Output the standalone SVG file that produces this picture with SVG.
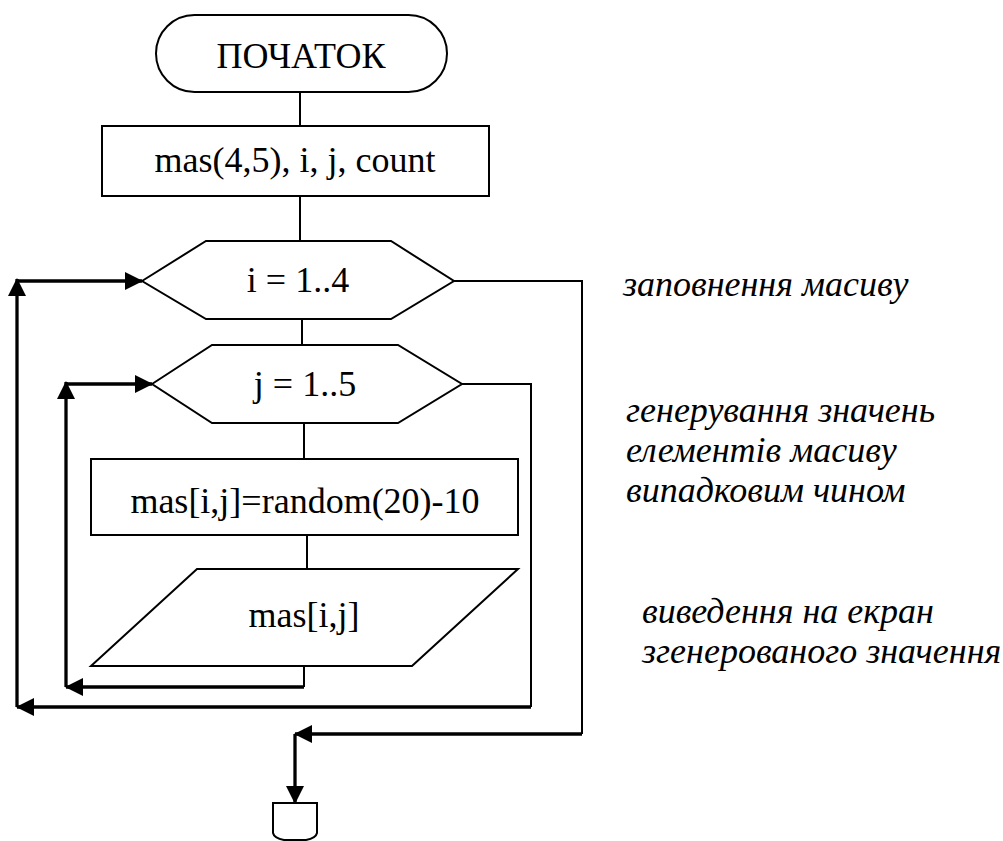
<svg xmlns="http://www.w3.org/2000/svg" width="1003" height="841" viewBox="0 0 1003 841">
<style>
.shape{fill:#fff;stroke:#000;stroke-width:2}
.t{font-family:"Liberation Serif","Times New Roman",serif;font-size:36px;fill:#000;text-anchor:middle}
.note{font-family:"Liberation Serif","Times New Roman",serif;font-size:36px;font-style:italic;fill:#000}
.thin{fill:none;stroke:#000;stroke-width:2}
.thick{fill:none;stroke:#000;stroke-width:3.3}
.arr{marker-end:url(#ah)}
</style>
<defs>
<marker id="ah" markerUnits="userSpaceOnUse" markerWidth="18" markerHeight="18" refX="17" refY="9" orient="auto">
<path d="M0,0 L18,9 L0,18 Z" fill="#000"/>
</marker>
</defs>
<rect width="1003" height="841" fill="#fff"/>
<g id="connectors">
<path class="thin" d="M300,92 V126"/>
<path class="thin" d="M300,196 V241"/>
<path class="thin" d="M302,319 V345"/>
<path class="thin" d="M304,423 V459"/>
<path class="thin" d="M307,535 V569"/>
<path class="thin" d="M304,666 V687"/>
<path class="thick arr" d="M304,687 H66"/>
<path class="thick arr" d="M66,687 V382"/>
<path class="thick arr" d="M66,384 H152"/>
<path class="thin" d="M462,384 H531 V707"/>
<path class="thick arr" d="M531,707 H17"/>
<path class="thick arr" d="M17,707 V279"/>
<path class="thick arr" d="M17,281 H142"/>
<path class="thin" d="M454,281 H582 V734"/>
<path class="thick arr" d="M582,734 H295"/>
<path class="thick arr" d="M295,734 V803"/>
</g>
<g id="start">
<rect class="shape" x="156" y="15" width="291" height="77" rx="38.5"/>
<text class="t" x="301" y="68">ПОЧАТОК</text>
</g>
<g id="vars">
<rect class="shape" x="102" y="126" width="387" height="70"/>
<text class="t" x="295" y="172">mas(4,5), i, j, count</text>
</g>
<g id="loop-i">
<polygon class="shape" points="142,281 206,241 391,241 454,281 391,319 206,319"/>
<text class="t" x="298" y="292">i = 1..4</text>
</g>
<g id="loop-j">
<polygon class="shape" points="152,384 212,345 398,345 462,384 398,423 212,423"/>
<text class="t" x="305" y="396">j = 1..5</text>
</g>
<g id="assign">
<rect class="shape" x="91" y="459" width="427" height="76"/>
<text class="t" x="305" y="513">mas[i,j]=random(20)-10</text>
</g>
<g id="output">
<polygon class="shape" points="197,569 518,569 412,666 91,666"/>
<text class="t" x="304" y="627">mas[i,j]</text>
</g>
<g id="connector-end">
<path class="shape" d="M273,803 H317 V833 Q316,838 306,840 H284 Q274,838 273,833 Z"/>
</g>
<g id="notes">
<text class="note" x="623" y="296">заповнення масиву</text>
<text class="note" x="626" y="422">генерування значень</text>
<text class="note" x="626" y="462">елементів масиву</text>
<text class="note" x="626" y="502">випадковим чином</text>
<text class="note" x="642" y="623">виведення на екран</text>
<text class="note" x="642" y="663">згенерованого значення</text>
</g>
</svg>
